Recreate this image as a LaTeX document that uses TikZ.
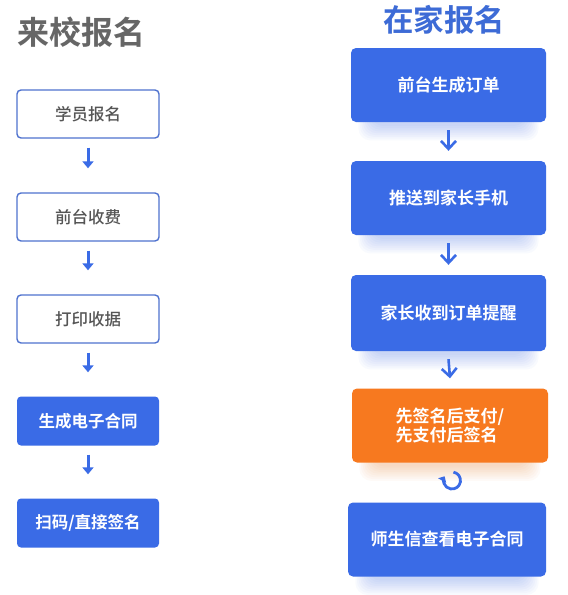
\documentclass[tikz,border=0pt]{standalone}
\usepackage{fontspec}
\setmainfont{Noto Sans CJK SC}
\newfontfamily\cjkb{Noto Sans CJK SC Bold}
\newfontfamily\cjkm{Noto Sans CJK SC Medium}
\usetikzlibrary{arrows.meta,backgrounds}
\definecolor{mblue}{HTML}{3A6BE6}
\definecolor{tblue}{HTML}{3D6BD6}
\definecolor{lborder}{HTML}{4F72CF}
\definecolor{morange}{HTML}{F7791F}
\definecolor{tgrey}{HTML}{666666}
\definecolor{bgrey}{HTML}{555555}
\newcommand\softshade[2]{%
  \foreach \k in {1,...,9}{
    \fill[#2,opacity=0.03,rounded corners=12pt]
      ([xshift={22pt-1.6pt*\k},yshift={-(2pt+1.8pt*\k)}]#1.south west) rectangle
      ([xshift={-(22pt-1.6pt*\k)},yshift=-20pt]#1.north east);
  }}
\begin{document}
\begin{tikzpicture}[x=1pt,y=-1pt,
  outbox/.style={draw=lborder,line width=1.4pt,rounded corners=4pt,fill=white,minimum width=142pt,minimum height=48pt,text=bgrey,font=\cjkm\fontsize{16.5}{18}\selectfont,inner sep=0pt},
  fillbox/.style={fill=mblue,rounded corners=4pt,minimum width=142pt,minimum height=49pt,text=white,font=\cjkb\fontsize{16.5}{18}\selectfont,inner sep=0pt},
  rbox/.style={fill=mblue,rounded corners=5pt,minimum width=195pt,minimum height=74pt,text=white,font=\cjkb\fontsize{17}{19.5}\selectfont,inner sep=0pt,align=center},
  larr/.style={draw=mblue,line width=3pt,-{Triangle[length=7pt,width=11pt]}},
  rarr/.style={draw=mblue,line width=2.6pt,-{Straight Barb[length=8pt,width=15pt,line width=2.6pt]}},
]
\useasboundingbox (0,0) rectangle (568,595);
% titles
\node[text=tgrey,font=\cjkb\fontsize{32}{34}\selectfont,anchor=west,inner sep=0pt] (t1) at (17,32) {来校报名};
\node[text=tblue,font=\cjkb\fontsize{30.5}{32}\selectfont,inner sep=0pt] (t2) at (444,20) {在家报名};
% left column
\node[outbox] (l1) at (88,114) {学员报名};
\node[outbox] (l2) at (88,217) {前台收费};
\node[outbox] (l3) at (88,319) {打印收据};
\node[fillbox] (l4) at (88,421) {生成电子合同};
\node[fillbox] (l5) at (88,523) {扫码/直接签名};
\foreach \a/\b in {l1/l2,l2/l3,l3/l4,l4/l5}{
  \draw[larr] ([yshift=-9pt]\a.south) -- ([yshift=24pt]\b.north);
}
% right column
\node[rbox] (r1) at (448.5,85) {前台生成订单};
\node[rbox] (r2) at (448.5,198) {推送到家长手机};
\node[rbox,minimum height=76pt] (r3) at (448.5,313) {家长收到订单提醒};
\node[rbox,fill=morange,minimum width=196pt,align=left] (r4) at (450,425.5) {先签名后支付/\\先支付后签名};
\node[rbox,minimum width=198pt] (r5) at (447,539.5) {师生信查看电子合同};
\begin{scope}[on background layer]
  \fill[white] (0,0) rectangle (568,595);
  \softshade{r1}{mblue}
  \softshade{r2}{mblue}
  \softshade{r3}{mblue}
  \softshade{r4}{morange}
  \softshade{r5}{mblue}
\end{scope}
\foreach \a/\b in {r1/r2,r2/r3,r3/r4}{
  \draw[rarr] ([yshift=-8pt]\a.south) -- ([yshift=10pt]\b.north);
}
\coordinate (cc) at (452,480.5);
\draw[draw=mblue,line width=2.8pt,-{Triangle[length=5pt,width=9pt]}] ([shift={(80:8.5pt)}]cc) arc[start angle=80,end angle=-210,radius=8.5pt];
\end{tikzpicture}
\end{document}
